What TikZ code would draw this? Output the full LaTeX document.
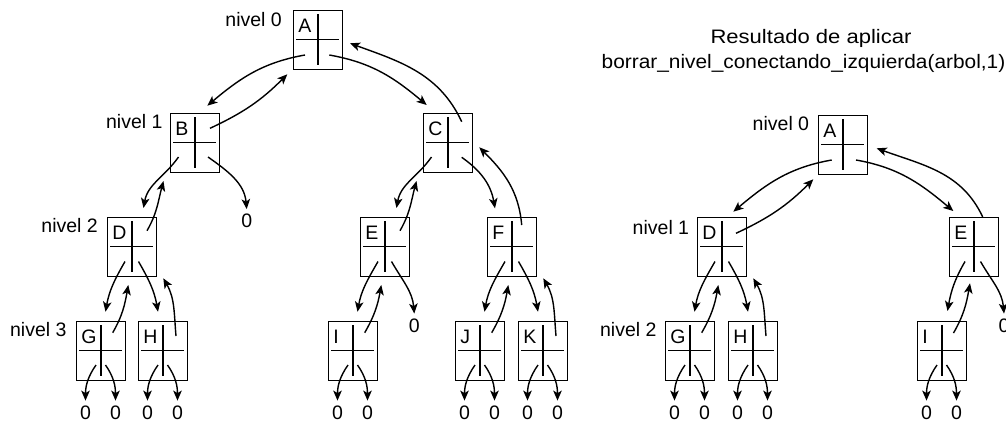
\documentclass[tikz,border=0pt]{standalone}
\usepackage{fontspec}
\usepackage{graphicx}
\setmainfont{Liberation Sans}
\usetikzlibrary{arrows.meta}
\newcommand{\labfont}{\fontsize{19.5}{24}\selectfont}
\begin{document}
\begin{tikzpicture}[x=1pt,y=1pt,
  tbox/.style={draw, line width=0.9pt, anchor=north west, minimum width=49pt, minimum height=59pt,
    inner xsep=5pt, inner ysep=0pt, text width=39pt, align=left, text height=22pt, text depth=37pt, font=\labfont,
    path picture={
      \draw[line width=1.8pt] ([xshift=24.5pt,yshift=-4pt]path picture bounding box.north west) -- ([xshift=24.5pt,yshift=4pt]path picture bounding box.south west);
      \draw[line width=1.8pt] ([xshift=3pt,yshift=-29pt]path picture bounding box.north west) -- ([xshift=-3pt,yshift=-29pt]path picture bounding box.north east);
    }},
  arr/.style={-{Stealth[length=10pt,width=8.5pt,inset=2.5pt]}, line width=1.4pt},
  zero/.style={font=\labfont, inner sep=0pt, outer sep=5pt},
  lvl/.style={font=\labfont, inner sep=0pt, anchor=base east},
  ttl/.style={font=\labfont, inner sep=0pt, anchor=base}
]
\path[use as bounding box, clip] (0,0) rectangle (1006,-424);

% titles
\node[ttl] (t1) at (811,-43.3) {\scalebox{1.13}[1]{Resultado de aplicar}};
\node[ttl] (t2) at (803.5,-68.3) {\scalebox{1.07}[1]{borrar\_nivel\_conectando\_izquierda(arbol,1)}};

% level labels
\node[lvl] (l0) at (282,-26.7) {nivel 0};
\node[lvl] (l1) at (162.7,-128.3) {nivel 1};
\node[lvl] (l2) at (98,-232.5) {nivel 2};
\node[lvl] (l3) at (66.7,-336.7) {nivel 3};
\node[lvl] (rl0) at (809.3,-130.7) {nivel 0};
\node[lvl] (rl1) at (689.3,-234.3) {nivel 1};
\node[lvl] (rl2) at (656.7,-336.7) {nivel 2};

% boxes left tree
\node[tbox] (A) at (293,-10) {A};
\node[tbox] (B) at (170,-113) {B};
\node[tbox] (C) at (423,-113) {C};
\node[tbox] (D) at (107,-217) {D};
\node[tbox] (E) at (360,-217) {E};
\node[tbox] (F) at (487,-217) {F};
\node[tbox] (G) at (76,-321) {G};
\node[tbox] (H) at (138,-321) {H};
\node[tbox] (I) at (328,-321) {I};
\node[tbox] (J) at (455,-321) {J};
\node[tbox] (K) at (518,-321) {K};
% boxes right tree
\node[tbox] (rA) at (818,-115) {A};
\node[tbox] (rD) at (697,-217) {D};
\node[tbox] (rE) at (949,-217) {E};
\node[tbox] (rG) at (665,-321) {G};
\node[tbox] (rH) at (728,-321) {H};
\node[tbox] (rI) at (917,-321) {I};

% zeros
\node[zero] (zB) at (246.7,-221) {0};
\node[zero] (zE) at (414.3,-325.5) {0};
\node[zero] (zrE) at (1004,-325.5) {0};
\node[zero] (zG1) at (85.5,-412.5) {0};
\node[zero] (zG2) at (115.5,-412.5) {0};
\node[zero] (zH1) at (147.5,-412.5) {0};
\node[zero] (zH2) at (177.5,-412.5) {0};
\node[zero] (zI1) at (337.5,-412.5) {0};
\node[zero] (zI2) at (367.5,-412.5) {0};
\node[zero] (zJ1) at (464.5,-412.5) {0};
\node[zero] (zJ2) at (494.5,-412.5) {0};
\node[zero] (zK1) at (527.5,-412.5) {0};
\node[zero] (zK2) at (557.5,-412.5) {0};
\node[zero] (zrG1) at (674.5,-412.5) {0};
\node[zero] (zrG2) at (704.5,-412.5) {0};
\node[zero] (zrH1) at (737.5,-412.5) {0};
\node[zero] (zrH2) at (767.5,-412.5) {0};
\node[zero] (zrI1) at (926.5,-412.5) {0};
\node[zero] (zrI2) at (956.5,-412.5) {0};

% ---------- left tree connectors ----------
\draw[arr] ([shift={(12,-45)}]A.north west) to[out=190,in=40] ([shift={(37.3,7.3)}]B.north west);
\draw[arr] ([shift={(40,-15.3)}]B.north west) to[out=25,in=225] ([shift={(-5.7,-64.3)}]A.north west);
\draw[arr] ([shift={(36.3,-45)}]A.north west) to[out=-10,in=140] ([shift={(3.7,8)}]C.north west);
\draw[arr] ([shift={(38.7,-8.7)}]C.north west) to[out=115,in=-20] ([shift={(57,-33.3)}]A.north west);

\draw[arr] ([shift={(8.5,-44)}]B.north west) to[out=235,in=80] ([shift={(36.5,9)}]D.north west);
\draw[arr] ([shift={(40,-13.7)}]D.north west) to[out=60,in=255] ([shift={(-6.5,-68)}]B.north west);
\draw[arr] ([shift={(38,-44)}]B.north west) to[out=-35,in=95] (zB.north);

\draw[arr] ([shift={(8.5,-44)}]C.north west) to[out=235,in=80] ([shift={(36.5,9)}]E.north west);
\draw[arr] ([shift={(40,-13.7)}]E.north west) to[out=60,in=255] ([shift={(-6.5,-68)}]C.north west);
\draw[arr] ([shift={(38.7,-44.3)}]C.north west) to[out=-35,in=100] ([shift={(8,8.7)}]F.north west);
\draw[arr] ([shift={(34.7,-8)}]F.north west) to[out=95,in=-45] ([shift={(56.3,-34.3)}]C.north west);

\draw[arr] ([shift={(18,-44.5)}]D.north west) to[out=240,in=80] ([shift={(29.5,9.3)}]G.north west);
\draw[arr] ([shift={(36.7,-11.7)}]G.north west) to[out=60,in=260] ([shift={(21.3,-68)}]D.north west);
\draw[arr] ([shift={(31.5,-44.5)}]D.north west) to[out=-60,in=100] ([shift={(20,9.3)}]H.north west);
\draw[arr] ([shift={(38,-15)}]H.north west) to[out=95,in=-60] ([shift={(56.3,-61.3)}]D.north west);

\draw[arr] ([shift={(18,-44.5)}]E.north west) to[out=240,in=80] ([shift={(29.5,9.3)}]I.north west);
\draw[arr] ([shift={(36.7,-11.7)}]I.north west) to[out=60,in=260] ([shift={(21.3,-68)}]E.north west);
\draw[arr] ([shift={(31.5,-44.5)}]E.north west) to[out=-60,in=95] (zE.north);

\draw[arr] ([shift={(18,-44.5)}]F.north west) to[out=240,in=80] ([shift={(29.5,9.3)}]J.north west);
\draw[arr] ([shift={(36.7,-11.7)}]J.north west) to[out=60,in=260] ([shift={(21.3,-68)}]F.north west);
\draw[arr] ([shift={(31.5,-44.5)}]F.north west) to[out=-60,in=100] ([shift={(20,9.3)}]K.north west);
\draw[arr] ([shift={(38,-15)}]K.north west) to[out=95,in=-60] ([shift={(56.3,-61.3)}]F.north west);

% leaves
\foreach \b/\za/\zb in {G/zG1/zG2, H/zH1/zH2, I/zI1/zI2, J/zJ1/zJ2, K/zK1/zK2, rG/zrG1/zrG2, rH/zrH1/zrH2, rI/zrI1/zrI2}{
  \draw[arr] ([shift={(20,-44)}]\b.north west) to[out=235,in=90] (\za.north);
  \draw[arr] ([shift={(29.5,-44)}]\b.north west) to[out=-55,in=90] (\zb.north);
}

% ---------- right tree connectors ----------
\draw[arr] ([shift={(13.7,-45)}]rA.north west) to[out=190,in=40] ([shift={(36.3,5.3)}]rD.north west);
\draw[arr] ([shift={(39,-16.3)}]rD.north west) to[out=25,in=225] ([shift={(-4.7,-64.3)}]rA.north west);
\draw[arr] ([shift={(38,-45)}]rA.north west) to[out=-10,in=140] ([shift={(4.3,6)}]rE.north west);
\draw[arr] ([shift={(33.7,0)}]rE.north west) to[out=115,in=-20] ([shift={(58.7,-33.3)}]rA.north west);

\draw[arr] ([shift={(18,-44.5)}]rD.north west) to[out=240,in=80] ([shift={(29.5,9.3)}]rG.north west);
\draw[arr] ([shift={(36.7,-11.7)}]rG.north west) to[out=60,in=260] ([shift={(21.3,-68)}]rD.north west);
\draw[arr] ([shift={(31.5,-44.5)}]rD.north west) to[out=-60,in=100] ([shift={(20,9.3)}]rH.north west);
\draw[arr] ([shift={(38,-15)}]rH.north west) to[out=95,in=-60] ([shift={(56.3,-61.3)}]rD.north west);

\draw[arr] ([shift={(16,-44.5)}]rE.north west) to[out=240,in=80] ([shift={(30.5,10)}]rI.north west);
\draw[arr] ([shift={(36.5,-12)}]rI.north west) to[out=60,in=260] ([shift={(21,-66.3)}]rE.north west);
\draw[arr] ([shift={(31.5,-44.5)}]rE.north west) to[out=-60,in=95] (zrE.north);
\end{tikzpicture}
\end{document}
